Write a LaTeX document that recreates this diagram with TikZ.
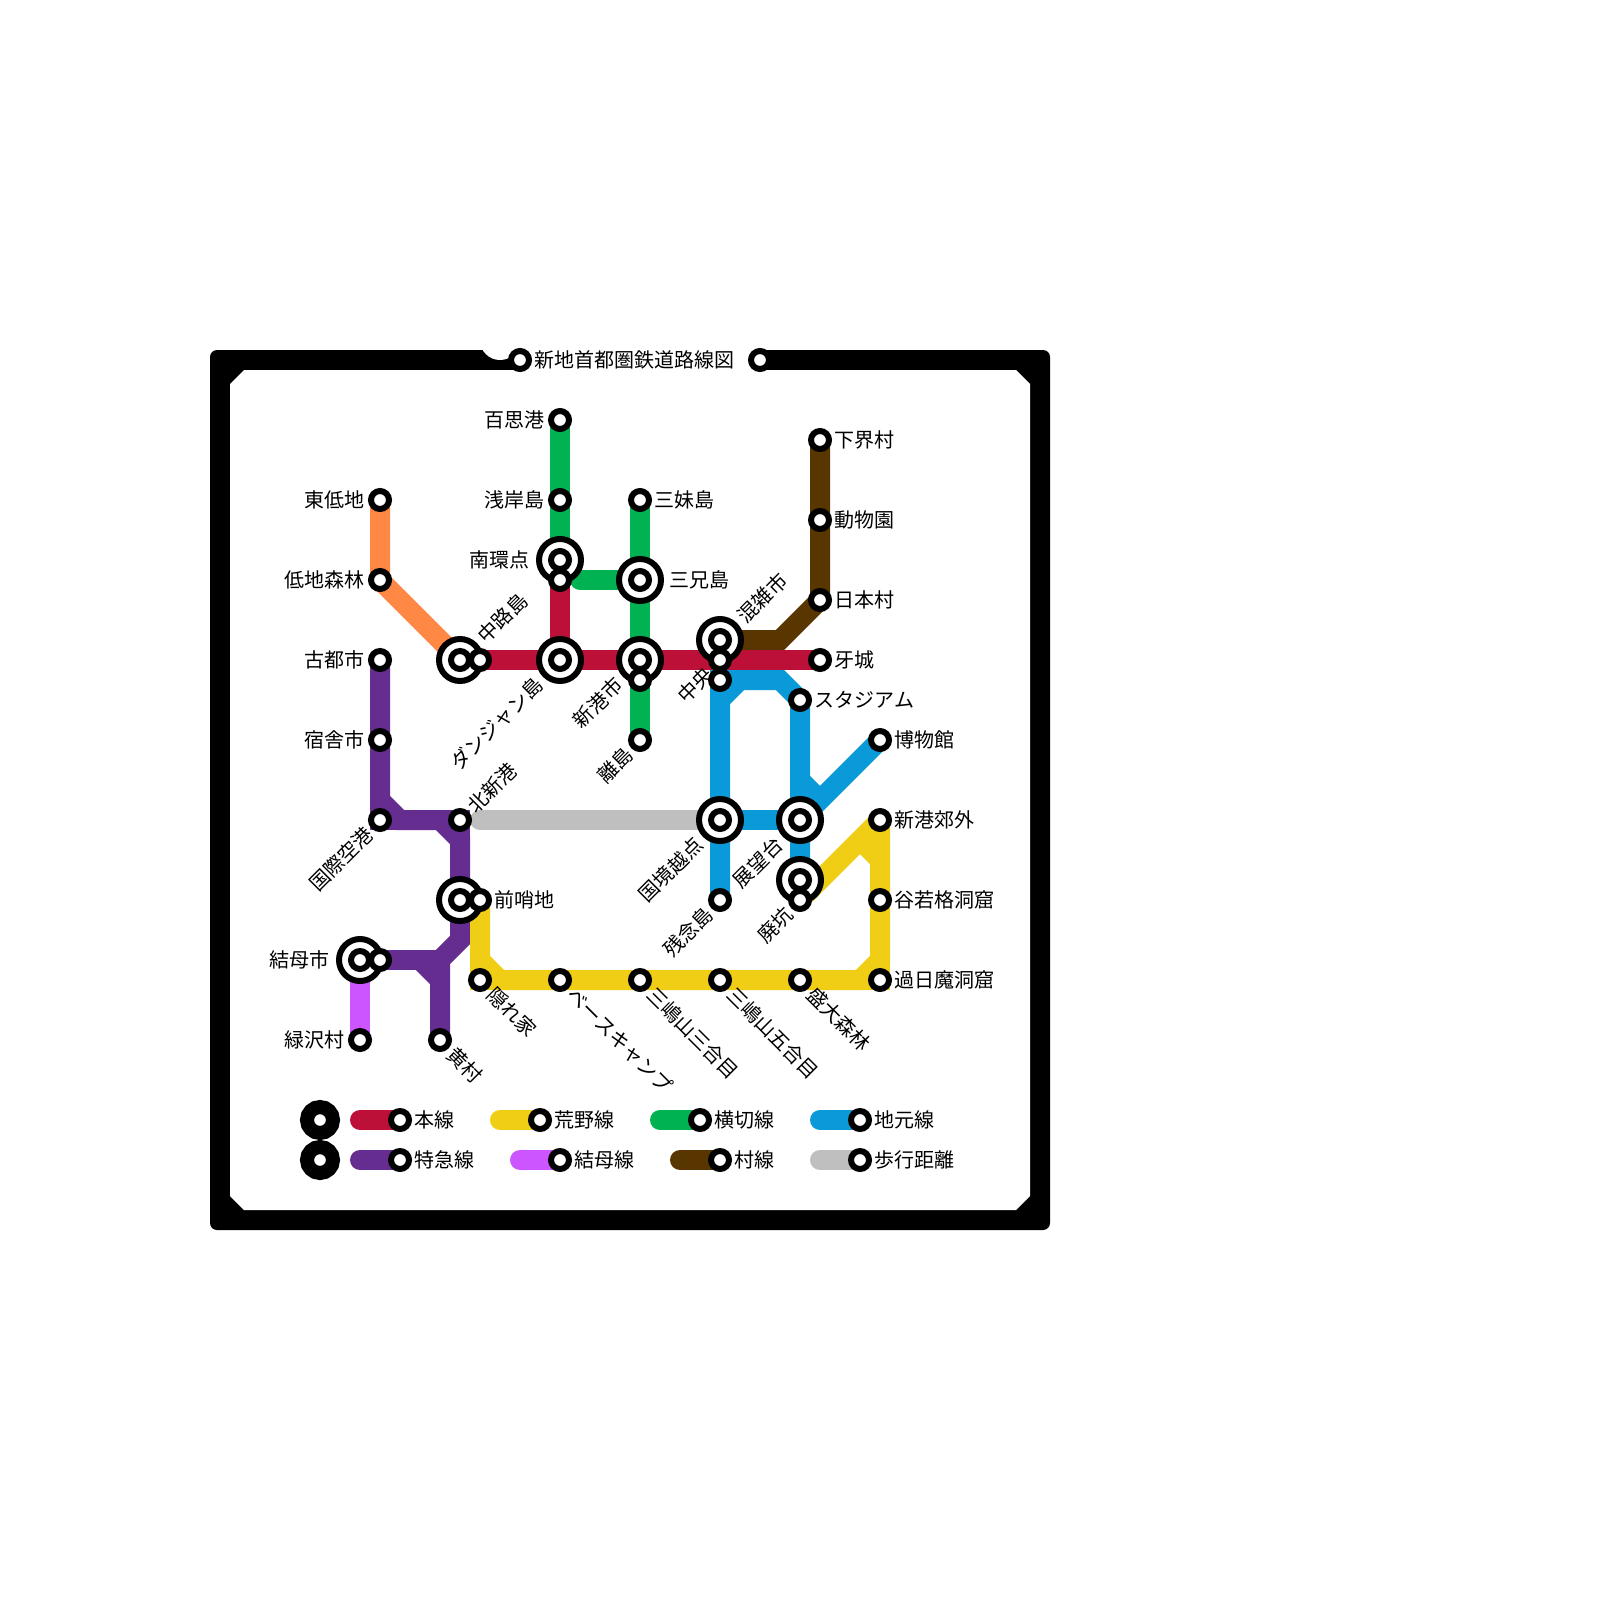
\documentclass[tikz,border=0pt]{standalone}
\usepackage{fontspec}
\setmainfont[Kerning=Off]{Noto Sans CJK JP}
\definecolor{cRed}{HTML}{BD1038}
\definecolor{cYellow}{HTML}{F0CE15}
\definecolor{cGreen}{HTML}{00B251}
\definecolor{cBlue}{HTML}{0A9AD9}
\definecolor{cPurple}{HTML}{662D91}
\definecolor{cLilac}{HTML}{CC55FF}
\definecolor{cBrown}{HTML}{593500}
\definecolor{cOrange}{HTML}{FF8844}
\definecolor{cGray}{HTML}{BFBFBF}
\tikzset{
  rail/.style={line width=10pt,line join=miter,line cap=butt},
  railround/.style={line width=10pt,line join=miter,line cap=round},
  stn/.style={circle,draw=black,fill=white,line width=3pt,minimum size=9pt,inner sep=0pt,outer sep=0pt},
  hub/.style={circle,draw=black,fill=white,line width=3pt,minimum size=21pt,inner sep=0pt,outer sep=0pt},
  key/.style={circle,draw=black,fill=white,line width=7pt,minimum size=13pt,inner sep=0pt,outer sep=0pt},
  lbl/.style={inner sep=0pt,outer sep=0pt,text height=9.4pt,text depth=1.6pt,font=\fontsize{10pt}{12pt}\selectfont},
  lE/.style={lbl,anchor=west,xshift=-0.25pt},
  lW/.style={lbl,anchor=east,xshift=-0.25pt},
  lNE/.style={lbl,anchor=west,rotate=45},
  lSW/.style={lbl,anchor=east,rotate=45},
  lSE/.style={lbl,anchor=west,rotate=-45},
}
\begin{document}
\begin{tikzpicture}[x=0.5pt,y=-0.5pt]
\useasboundingbox (0,0) rectangle (1600,1600);
% frame
\fill[black,rounded corners=3.5pt] (210,350) rectangle (1050,1230);
\fill[white] (244,370) -- (1016,370) -- (1030,384) -- (1030,1196) -- (1016,1210) -- (244,1210) -- (230,1196) -- (230,384) -- cycle;
\fill[white] (520,345) rectangle (760,371);
\fill[white] (500,340) circle[radius=10pt];
% station positions
\foreach \n/\x/\y in {
 momo/560/420, asagi/560/500, minamiB/560/560, minamiS/560/580,
 himo/380/500, teichi/380/580, nakaB/460/660, nakaS/480/660,
 jyanB/560/660, shinkoB/640/660, shinkoS/640/680, sanmai/640/500, sankei/640/580, hanare/640/740,
 konB/720/640, konS/720/660, chuo/720/680, kiba/820/660,
 gekai/820/440, dobutsu/820/520, nihon/820/600,
 stad/800/700, haku/880/740, kokkyo/720/820, tenbo/800/820, haikoB/800/880, haikoS/800/900, zan/720/900,
 koto/380/660, shuku/380/740, kokusai/380/820, kita/460/820, zenB/460/900, zenS/480/900,
 yuiB/360/960, yuiS/380/960, midori/360/1040, ki/440/1040,
 kakure/480/980, base/560/980, san/640/980, go/720/980, morio/800/980, kajitsu/880/980, tani/880/900, kogai/880/820,
 ttl/520/360, ttr/760/360,
 bGa/380/800, bGb/400/820, bGc/440/820, bGd/460/840, bGe/460/940, bGf/440/960, bGg/420/960, bGh/440/980,
 yAa/480/960, yAb/500/980, yAc/860/980, yAd/880/960, yAe/860/840, yAf/880/860,
 uAa/720/700, uAb/740/680, uAc/780/680, uBa/820/800, uBb/800/780,
 mAa/780/640, gAa/580/580, wAa/480/820,
 k1a/360/1120, k1b/400/1120, k2a/500/1120, k2b/540/1120, k3a/660/1120, k3b/700/1120, k4a/820/1120, k4b/860/1120,
 k5a/360/1160, k5b/400/1160, k6a/520/1160, k6b/560/1160, k7a/680/1160, k7b/720/1160, k8a/820/1160, k8b/860/1160,
 keyA/320/1120, keyB/320/1160}
  {\coordinate (\n) at (\x,\y);}
% lines
\draw[rail,cOrange] (himo) -- (teichi) -- (nakaB);
\draw[rail,cGreen] (momo) -- (minamiB);
\draw[railround,cGreen] (gAa) -- (sankei);
\draw[rail,cGreen] (sanmai) -- (hanare);
\draw[railround,cGray] (wAa) -- (kokkyo);
\draw[rail,cPurple] (koto) -- (bGa) -- (bGb) -- (bGc) -- (bGd) -- (bGe) -- (bGf) -- (ki);
\draw[rail,cPurple] (bGa) -- (kokusai) -- (bGb);
\draw[rail,cPurple] (bGc) -- (kita) -- (bGd);
\draw[rail,cPurple] (yuiS) -- (bGf);
\draw[rail,cPurple] (bGg) -- (bGh);
\draw[rail,cLilac] (yuiB) -- (midori);
\draw[rail,cBrown] (gekai) -- (nihon) -- (mAa) -- (konB);
\draw[rail,cBlue] (zan) -- (uAa) -- (uAb) -- (uAc) -- (stad) -- (haikoB);
\draw[rail,cBlue] (uAa) -- (chuo) -- (uAb);
\draw[rail,cBlue] (kokkyo) -- (tenbo);
\draw[rail,cBlue] (haku) -- (uBa) -- (uBb);
\draw[rail,cYellow] (zenS) -- (yAa) -- (yAb) -- (yAc) -- (yAd) -- (kogai);
\draw[rail,cYellow] (yAa) -- (kakure) -- (yAb);
\draw[rail,cYellow] (yAc) -- (kajitsu) -- (yAd);
\draw[rail,cYellow] (haikoS) -- (kogai);
\draw[rail,cYellow] (yAe) -- (yAf);
\draw[rail,cRed] (minamiS) -- (jyanB);
\draw[rail,cRed] (nakaS) -- (kiba);
% frame ends
\node[stn] at (ttl) {};
\node[stn] at (ttr) {};
% legend lines
\draw[railround,cRed] (k1a) -- (k1b);
\draw[railround,cYellow] (k2a) -- (k2b);
\draw[railround,cGreen] (k3a) -- (k3b);
\draw[railround,cBlue] (k4a) -- (k4b);
\draw[railround,cPurple] (k5a) -- (k5b);
\draw[railround,cLilac] (k6a) -- (k6b);
\draw[railround,cBrown] (k7a) -- (k7b);
\draw[railround,cGray] (k8a) -- (k8b);
\node[key] at (keyA) {};
\node[key] at (keyB) {};
% interchange rings
\foreach \n in {minamiB,nakaB,jyanB,shinkoB,sankei,konB,kokkyo,tenbo,haikoB,zenB,yuiB}
  {\node[hub] at (\n) {};}
% stations
\foreach \n in {momo,asagi,minamiB,minamiS,himo,teichi,nakaB,nakaS,jyanB,shinkoB,shinkoS,sanmai,sankei,hanare,
  konB,konS,chuo,kiba,gekai,dobutsu,nihon,stad,haku,kokkyo,tenbo,haikoB,haikoS,zan,
  koto,shuku,kokusai,kita,zenB,zenS,yuiB,yuiS,midori,ki,
  kakure,base,san,go,morio,kajitsu,tani,kogai,
  k1b,k2b,k3b,k4b,k5b,k6b,k7b,k8b}
  {\node[stn] at (\n) {};}
% labels
\node[lE] (tTitle) at (535,360) {新地首都圏鉄道路線図};
\node[lW] (tMomo) at ([xshift=-7.5pt]momo) {百思港};
\node[lW] (tAsagi) at ([xshift=-7.5pt]asagi) {浅岸島};
\node[lW] (tMinami) at ([xshift=-15pt]minamiB) {南環点};
\node[lW] (tHimo) at ([xshift=-7.5pt]himo) {東低地};
\node[lW] (tTeichi) at ([xshift=-7.5pt]teichi) {低地森林};
\node[lW] (tKoto) at ([xshift=-7.5pt]koto) {古都市};
\node[lW] (tShuku) at ([xshift=-7.5pt]shuku) {宿舎市};
\node[lW] (tYui) at ([xshift=-15pt]yuiB) {結母市};
\node[lW] (tMidori) at ([xshift=-7.5pt]midori) {緑沢村};
\node[lE] (tSanmai) at ([xshift=7.5pt]sanmai) {三妹島};
\node[lE] (tSankei) at ([xshift=15pt]sankei) {三兄島};
\node[lE] (tGekai) at ([xshift=7.5pt]gekai) {下界村};
\node[lE] (tDobutsu) at ([xshift=7.5pt]dobutsu) {動物園};
\node[lE] (tNihon) at ([xshift=7.5pt]nihon) {日本村};
\node[lE] (tKiba) at ([xshift=7.5pt]kiba) {牙城};
\node[lE] (tStad) at ([xshift=7.5pt]stad) {スタジアム};
\node[lE] (tHaku) at ([xshift=7.5pt]haku) {博物館};
\node[lE] (tKogai) at ([xshift=7.5pt]kogai) {新港郊外};
\node[lE] (tTani) at ([xshift=7.5pt]tani) {谷若格洞窟};
\node[lE] (tKajitsu) at ([xshift=7.5pt]kajitsu) {過日魔洞窟};
\node[lE] (tZen) at ([xshift=7.5pt]zenS) {前哨地};
\node[lNE] (tNaka) at ([xshift=10.6pt,yshift=10.6pt]nakaB) {中路島};
\node[lNE] (tKon) at ([xshift=10.6pt,yshift=10.6pt]konB) {混雑市};
\node[lNE] (tKita) at ([xshift=5.3pt,yshift=5.3pt]kita) {北新港};
\node[lSW] (tJyan) at ([xshift=-10.6pt,yshift=-10.6pt]jyanB) {ダンジャン島};
\node[lSW] (tShinko) at ([xshift=-10.6pt,yshift=-10.6pt]shinkoB) {新港市};
\node[lSW] (tHanare) at ([xshift=-5.3pt,yshift=-5.3pt]hanare) {離島};
\node[lSW] (tChuo) at ([xshift=-5.3pt,yshift=-5.3pt]konS) {中央};
\node[lSW] (tKokusai) at ([xshift=-5.3pt,yshift=-5.3pt]kokusai) {国際空港};
\node[lSW] (tKokkyo) at ([xshift=-10.6pt,yshift=-10.6pt]kokkyo) {国境越点};
\node[lSW] (tTenbo) at ([xshift=-10.6pt,yshift=-10.6pt]tenbo) {展望台};
\node[lSW] (tZan) at ([xshift=-5.3pt,yshift=-5.3pt]zan) {残念島};
\node[lSW] (tHaiko) at ([xshift=-5.3pt,yshift=-5.3pt]haikoS) {廃坑};
\node[lSE] (tKakure) at ([xshift=5.3pt,yshift=-5.3pt]kakure) {隠れ家};
\node[lSE] (tBase) at ([xshift=5.3pt,yshift=-5.3pt]base) {ベースキャンプ};
\node[lSE] (tSan) at ([xshift=5.3pt,yshift=-5.3pt]san) {三嶋山三合目};
\node[lSE] (tGo) at ([xshift=5.3pt,yshift=-5.3pt]go) {三嶋山五合目};
\node[lSE] (tMorio) at ([xshift=5.3pt,yshift=-5.3pt]morio) {盛大森林};
\node[lSE] (tKi) at ([xshift=5.3pt,yshift=-5.3pt]ki) {黄村};
\node[lE] (t1) at ([xshift=7.5pt]k1b) {本線};
\node[lE] (t2) at ([xshift=7.5pt]k2b) {荒野線};
\node[lE] (t3) at ([xshift=7.5pt]k3b) {横切線};
\node[lE] (t4) at ([xshift=7.5pt]k4b) {地元線};
\node[lE] (t5) at ([xshift=7.5pt]k5b) {特急線};
\node[lE] (t6) at ([xshift=7.5pt]k6b) {結母線};
\node[lE] (t7) at ([xshift=7.5pt]k7b) {村線};
\node[lE] (t8) at ([xshift=7.5pt]k8b) {歩行距離};
\end{tikzpicture}
\end{document}
